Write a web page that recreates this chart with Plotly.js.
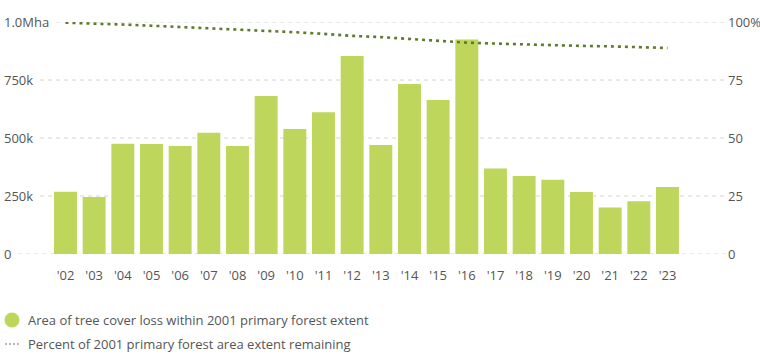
<!DOCTYPE html>
<html><head><meta charset="utf-8">
<script src="https://cdn.plot.ly/plotly-3.0.1.min.js"></script>
<style>html,body{margin:0;padding:0;background:#fff}#chart{width:760px;height:360px}</style>
</head><body><div id="chart"></div>
<script>
const years = ["'02","'03","'04","'05","'06","'07","'08","'09","'10","'11","'12","'13","'14","'15","'16","'17","'18","'19","'20","'21","'22","'23"];
const lossHa = [268000,246000,475000,474000,465000,523000,465000,681000,539000,611000,853000,470000,733000,664000,925000,369000,336000,320000,267000,200000,227000,289000];
const pctRemaining = [99.7,99.45,98.9,98.4,97.9,97.4,96.9,96.2,95.6,94.9,94.0,93.5,92.7,92.0,91.1,90.7,90.3,90.0,89.7,89.5,89.2,88.8];
const leftTickVals = [0,250000,500000,750000,1000000];
const leftTickText = ["0","250k","500k","750k","1.0Mha"];
const rightTickVals = [0,25,50,75,100];
const rightTickText = ["0","25","50","75","100%"];
const barName = "Area of tree cover loss within 2001 primary forest extent";
const lineName = "Percent of 2001 primary forest area extent remaining";

const FONT = "Open Sans, sans-serif";
const FS = 13;
const TXT = "#555";
const BAR_COLOR = "#bed65b";
const W = 760, H = 360, ML = 5, MR = 33, MT = 22, MB = 106;
const plotW = W - ML - MR, plotH = H - MT - MB;
const px = x => (x - ML) / plotW;          // pixel -> paper x
const py = y => (H - MB - y) / plotH;      // pixel -> paper y

const ctx = document.createElement("canvas").getContext("2d");
ctx.font = FS + "px Open Sans";
const shapes = leftTickVals.map((v, i) => {
  const w = ctx.measureText(leftTickText[i]).width;
  return {type: "line", xref: "paper", yref: "y", x0: (w + 6) / plotW, x1: 1, y0: v, y1: v,
          layer: "below", line: {color: "#d2d2d2", width: 1, dash: "4px,4px"}};
});
const annotations = leftTickVals.map((v, i) => ({
  xref: "paper", yref: "y", x: 0, y: v, xanchor: "left", yanchor: "middle", xshift: -2,
  text: leftTickText[i], showarrow: false, borderpad: 0,
  font: {family: FONT, size: FS, color: TXT}
}));

// legend (drawn below the plot)
shapes.push({type: "circle", xref: "paper", yref: "paper",
  x0: px(4.5), x1: px(19.5), y0: py(312.5), y1: py(327.5),
  fillcolor: BAR_COLOR, line: {width: 0}});
shapes.push({type: "line", xref: "paper", yref: "paper",
  x0: px(5), x1: px(21), y0: py(344), y1: py(344),
  line: {color: "#6f7a55", width: 1.2, dash: "2px,2px"}});
[[barName, 320], [lineName, 344]].forEach(([t, y]) => annotations.push({
  xref: "paper", yref: "paper", x: px(27), y: py(y), xanchor: "left", yanchor: "middle",
  text: t, showarrow: false, borderpad: 0, font: {family: FONT, size: 13, color: TXT}
}));

const traces = [
  {type: "bar", x: years, y: lossHa, name: barName, marker: {color: BAR_COLOR}, hoverinfo: "skip"},
  {type: "scatter", mode: "lines", x: years, y: pctRemaining, yaxis: "y2", name: lineName,
   line: {color: "#5f7a2c", width: 2.6, dash: "3px,4px"}}
];

const layout = {
  width: W, height: H,
  margin: {l: ML, r: MR, t: MT, b: MB, pad: 0},
  paper_bgcolor: "#fff", plot_bgcolor: "#fff",
  font: {family: FONT, size: FS, color: TXT},
  bargap: 0.2,
  showlegend: false,
  xaxis: {type: "category", range: [-2.11, 23.076], showgrid: false, zeroline: false,
          showline: false, ticks: "", ticklabelstandoff: 12, automargin: false,
          tickfont: {size: FS, color: TXT}},
  yaxis: {range: [0, 1000000], showticklabels: false, showgrid: false, zeroline: false,
          showline: false, ticks: "", automargin: false},
  yaxis2: {overlaying: "y", side: "right", range: [0, 100], tickvals: rightTickVals,
           ticktext: rightTickText, showgrid: false, zeroline: false, showline: false,
           ticks: "", automargin: false, tickfont: {size: FS, color: TXT}},
  shapes: shapes,
  annotations: annotations
};

Plotly.newPlot("chart", traces, layout, {displayModeBar: false, staticPlot: true});
</script></body></html>
